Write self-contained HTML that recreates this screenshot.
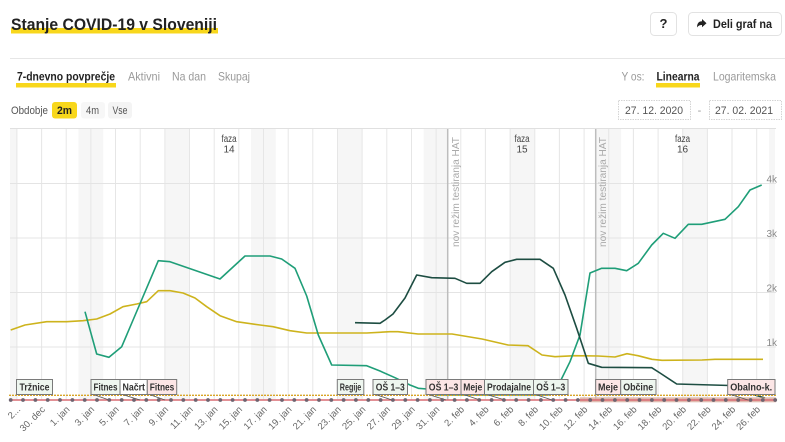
<!DOCTYPE html>
<html>
<head>
<meta charset="utf-8">
<style>
html,body{margin:0;padding:0;background:#fff;}
body{width:785px;height:442px;overflow:hidden;}
svg{display:block;font-family:"Liberation Sans",Arial,sans-serif;}
</style>
</head>
<body>
<svg width="785" height="442" viewBox="0 0 785 442" xmlns="http://www.w3.org/2000/svg">
  <!-- Header -->
  <rect x="11" y="28" width="207" height="5.5" fill="#f8d71c"/>
  <text x="11" y="30" font-size="17" font-weight="bold" fill="#222" textLength="206" lengthAdjust="spacingAndGlyphs">Stanje COVID-19 v Sloveniji</text>

  <rect x="650.5" y="12.5" width="26" height="23" rx="4" fill="#fff" stroke="#e2e2e2"/>
  <text x="663.5" y="28" font-size="13" font-weight="bold" fill="#222" text-anchor="middle">?</text>
  <rect x="688.5" y="12.5" width="93" height="23" rx="4" fill="#fff" stroke="#e2e2e2"/>
  <path d="M697,27.5 C697,22.5 699.5,21.2 702,21.2 L702,19 L706.5,23.2 L702,27.3 L702,25 C700,25 698.3,25.6 697,27.5 Z" fill="#222"/>
  <text x="713" y="28" font-size="12" font-weight="bold" fill="#222" textLength="59" lengthAdjust="spacingAndGlyphs">Deli graf na</text>

  <line x1="10" y1="58.5" x2="785" y2="58.5" stroke="#e6e6e6" stroke-width="1"/>

  <!-- Tabs -->
  <rect x="16" y="83" width="100" height="4.5" fill="#f8d71c"/>
  <text x="17" y="80.5" font-size="12" font-weight="bold" fill="#222" textLength="98" lengthAdjust="spacingAndGlyphs">7-dnevno povprečje</text>
  <text x="128" y="80.5" font-size="12" fill="#9a9a9a" textLength="32" lengthAdjust="spacingAndGlyphs">Aktivni</text>
  <text x="172" y="80.5" font-size="12" fill="#9a9a9a" textLength="34" lengthAdjust="spacingAndGlyphs">Na dan</text>
  <text x="218" y="80.5" font-size="12" fill="#9a9a9a" textLength="32" lengthAdjust="spacingAndGlyphs">Skupaj</text>

  <text x="621.5" y="80.5" font-size="12" fill="#9a9a9a" textLength="23" lengthAdjust="spacingAndGlyphs">Y os:</text>
  <rect x="656" y="83" width="44" height="4.5" fill="#f8d71c"/>
  <text x="656.5" y="80.5" font-size="12" font-weight="bold" fill="#222" textLength="43" lengthAdjust="spacingAndGlyphs">Linearna</text>
  <text x="713" y="80.5" font-size="12" fill="#9a9a9a" textLength="63" lengthAdjust="spacingAndGlyphs">Logaritemska</text>

  <!-- Period -->
  <text x="11" y="114" font-size="11" fill="#555" textLength="37" lengthAdjust="spacingAndGlyphs">Obdobje</text>
  <rect x="52" y="102" width="25" height="16.5" rx="3" fill="#f8d71c"/>
  <text x="57" y="114" font-size="11" font-weight="bold" fill="#222" textLength="15" lengthAdjust="spacingAndGlyphs">2m</text>
  <rect x="81" y="102" width="24" height="16.5" rx="3" fill="#f7f7f7"/>
  <text x="86" y="114" font-size="11" fill="#555" textLength="13" lengthAdjust="spacingAndGlyphs">4m</text>
  <rect x="108" y="102" width="24" height="16.5" rx="3" fill="#f4f4f4"/>
  <text x="112.5" y="114" font-size="11" fill="#555" textLength="15" lengthAdjust="spacingAndGlyphs">Vse</text>

  <rect x="618.5" y="100.5" width="72" height="19" fill="#fff" stroke="#d4d4d4" stroke-dasharray="1.5,1"/>
  <text x="625" y="114" font-size="11" fill="#555" textLength="58" lengthAdjust="spacingAndGlyphs">27. 12. 2020</text>
  <text x="699.5" y="114" font-size="11" fill="#999" text-anchor="middle">-</text>
  <rect x="709.5" y="100.5" width="72" height="19" fill="#fff" stroke="#d4d4d4" stroke-dasharray="1.5,1"/>
  <text x="715" y="114" font-size="11" fill="#555" textLength="58" lengthAdjust="spacingAndGlyphs">27. 02. 2021</text>

  <!-- Chart: weekend bands -->
  <g fill="#f6f6f6">
    <rect x="10" y="129" width="6.9" height="271"/>
    <rect x="78.5" y="129" width="24.7" height="271"/>
    <rect x="164.8" y="129" width="24.7" height="271"/>
    <rect x="251.1" y="129" width="24.7" height="271"/>
    <rect x="337.4" y="129" width="24.7" height="271"/>
    <rect x="423.7" y="129" width="24.7" height="271"/>
    <rect x="510.1" y="129" width="24.7" height="271"/>
    <rect x="596.4" y="129" width="24.7" height="271"/>
    <rect x="682.7" y="129" width="24.7" height="271"/>
    <rect x="769.0" y="129" width="6" height="271"/>
  </g>

  <!-- top border -->
  <line x1="10" y1="128.5" x2="776" y2="128.5" stroke="#e0e0e0"/>

  <!-- vertical gridlines -->
  <g stroke="#e6e6e6" stroke-width="1">
    <line x1="16.9" y1="129" x2="16.9" y2="400"/>
    <line x1="41.6" y1="129" x2="41.6" y2="400"/>
    <line x1="66.2" y1="129" x2="66.2" y2="400"/>
    <line x1="90.9" y1="129" x2="90.9" y2="400"/>
    <line x1="115.5" y1="129" x2="115.5" y2="400"/>
    <line x1="140.2" y1="129" x2="140.2" y2="400"/>
    <line x1="164.9" y1="129" x2="164.9" y2="400"/>
    <line x1="189.5" y1="129" x2="189.5" y2="400"/>
    <line x1="214.2" y1="129" x2="214.2" y2="400"/>
    <line x1="238.8" y1="129" x2="238.8" y2="400"/>
    <line x1="263.5" y1="129" x2="263.5" y2="400"/>
    <line x1="288.2" y1="129" x2="288.2" y2="400"/>
    <line x1="312.8" y1="129" x2="312.8" y2="400"/>
    <line x1="337.5" y1="129" x2="337.5" y2="400"/>
    <line x1="362.1" y1="129" x2="362.1" y2="400"/>
    <line x1="386.8" y1="129" x2="386.8" y2="400"/>
    <line x1="411.5" y1="129" x2="411.5" y2="400"/>
    <line x1="436.1" y1="129" x2="436.1" y2="400"/>
    <line x1="460.8" y1="129" x2="460.8" y2="400"/>
    <line x1="485.4" y1="129" x2="485.4" y2="400"/>
    <line x1="510.1" y1="129" x2="510.1" y2="400"/>
    <line x1="534.8" y1="129" x2="534.8" y2="400"/>
    <line x1="559.4" y1="129" x2="559.4" y2="400"/>
    <line x1="584.1" y1="129" x2="584.1" y2="400"/>
    <line x1="608.7" y1="129" x2="608.7" y2="400"/>
    <line x1="633.4" y1="129" x2="633.4" y2="400"/>
    <line x1="658.1" y1="129" x2="658.1" y2="400"/>
    <line x1="682.7" y1="129" x2="682.7" y2="400"/>
    <line x1="707.4" y1="129" x2="707.4" y2="400"/>
    <line x1="732.0" y1="129" x2="732.0" y2="400"/>
    <line x1="756.7" y1="129" x2="756.7" y2="400"/>
  </g>

  <!-- horizontal gridlines -->
  <g stroke="#e4e4e4" stroke-width="1">
    <line x1="10" y1="183.5" x2="776" y2="183.5"/>
    <line x1="10" y1="238" x2="776" y2="238"/>
    <line x1="10" y1="292.5" x2="776" y2="292.5"/>
    <line x1="10" y1="347" x2="776" y2="347"/>
  </g>

  <!-- y labels -->
  <g font-size="10" fill="#8a8a8a" text-anchor="end">
    <text x="777" y="182.5">4k</text>
    <text x="777" y="237">3k</text>
    <text x="777" y="291.5">2k</text>
    <text x="777" y="346">1k</text>
  </g>

  <!-- HAT lines -->
  <line x1="447.7" y1="129" x2="447.7" y2="400" stroke="#bdbdbd" stroke-width="1.5"/>
  <line x1="595.7" y1="129" x2="595.7" y2="400" stroke="#bdbdbd" stroke-width="1.5"/>
  <text transform="translate(459,247) rotate(-90)" font-size="10" fill="#aaa" textLength="110" lengthAdjust="spacingAndGlyphs">nov režim testiranja HAT</text>
  <text transform="translate(606,247) rotate(-90)" font-size="10" fill="#aaa" textLength="110" lengthAdjust="spacingAndGlyphs">nov režim testiranja HAT</text>

  <!-- phase labels -->
  <g font-size="10" fill="#444" text-anchor="middle">
    <text x="229" y="142" textLength="15" lengthAdjust="spacingAndGlyphs">faza</text>
    <text x="229" y="152.5">14</text>
    <text x="522" y="142" textLength="15" lengthAdjust="spacingAndGlyphs">faza</text>
    <text x="522" y="152.5">15</text>
    <text x="682.5" y="142" textLength="15" lengthAdjust="spacingAndGlyphs">faza</text>
    <text x="682.5" y="152.5">16</text>
  </g>

  <!-- Series: yellow -->
  <polyline fill="none" stroke="#cdb31c" stroke-width="1.6" stroke-linejoin="round"
    points="10.7,330 25,325 46.7,321.7 66.7,321.7 83,320.7 96.7,319 110,314 123,306.7 136.7,304 146.7,301.7 158.3,290.7 170,290.7 183,293 195,298 206.7,306.7 220,315.7 236.7,321.7 260,325 273,326.7 290,330.7 306.7,333 366.7,333 390,331.7 398,331.7 418,334 452,334 482,339 508,345 528,345.7 542,355 555,356.7 575,355.7 598,356 615,357 627,353.7 638,355.7 652,359.3 662,360.3 702,360 715,359.3 763,359.3"/>

  <!-- Series: teal -->
  <polyline fill="none" stroke="#1f9e78" stroke-width="1.6" stroke-linejoin="round"
    points="85,311.7 96.7,354 109,357.3 121.7,346.7 158.3,260.7 170,261.7 220,279 245,256 270,256 281.7,259 295,268.3 306.7,296 318.3,335 331.7,365 366.7,365.7 380,371 395,377.7 410,385 418.3,388.3 427,389 437,395 548,395 558,386 570,361.7 580,335 590,273 601.7,268.3 615,268.3 626.7,270.7 638.3,263.3 651.7,245 663.3,233.3 675,238.3 688.3,224.3 701.7,224.3 725,219.3 738.3,206.7 750,190 761.7,185"/>

  <!-- Series: dark green -->
  <polyline fill="none" stroke="#1d4d42" stroke-width="1.6" stroke-linejoin="round"
    points="355,322.7 380,323.3 385,320 393,314 405,298 416.7,275 431.7,277.7 455,278.3 466.7,283.3 480,283.3 491.7,271.7 505,262.3 516.7,259.3 540,259.3 553.3,268.3 565,295 576.7,328.3 588.3,363.3 601.7,367.3 651.7,367.7 660,373 676.7,384 730,385.5 745,392 765,398"/>

  <!-- baseline series -->
  <rect x="580" y="397.3" width="196" height="5" fill="#d8ab9c" opacity="0.8"/>
  <line x1="9" y1="395.3" x2="776" y2="395.3" stroke="#d9a526" stroke-width="1.3" stroke-dasharray="2,1"/>
  <line x1="9" y1="400" x2="776" y2="400" stroke="#d96b72" stroke-width="1.6"/>

  <!-- connector lines -->
  <g stroke="#555" stroke-width="0.8">
    <line x1="92" y1="394" x2="109" y2="400"/>
    <line x1="121" y1="394" x2="140" y2="400"/>
    <line x1="148" y1="394" x2="165" y2="400"/>
    <line x1="374" y1="394" x2="392" y2="400"/>
    <line x1="427" y1="394" x2="446" y2="400"/>
    <line x1="462" y1="394" x2="480" y2="400"/>
    <line x1="485" y1="394" x2="505" y2="400"/>
    <line x1="534" y1="394" x2="552" y2="400"/>
    <line x1="729" y1="394" x2="748" y2="400"/>
  </g>

  <!-- dots -->
  <g fill="#6e6470">
    <circle cx="10.7" cy="400" r="1.9"/><circle cx="23.0" cy="400" r="1.9"/><circle cx="35.4" cy="400" r="1.9"/><circle cx="47.7" cy="400" r="1.9"/><circle cx="60.0" cy="400" r="1.9"/><circle cx="72.4" cy="400" r="1.9"/><circle cx="84.7" cy="400" r="1.9"/><circle cx="97.0" cy="400" r="1.9"/><circle cx="109.3" cy="400" r="1.9"/><circle cx="121.7" cy="400" r="1.9"/>
    <circle cx="134.0" cy="400" r="1.9"/><circle cx="146.3" cy="400" r="1.9"/><circle cx="158.7" cy="400" r="1.9"/><circle cx="171.0" cy="400" r="1.9"/><circle cx="183.3" cy="400" r="1.9"/><circle cx="195.7" cy="400" r="1.9"/><circle cx="208.0" cy="400" r="1.9"/><circle cx="220.3" cy="400" r="1.9"/><circle cx="232.6" cy="400" r="1.9"/><circle cx="245.0" cy="400" r="1.9"/>
    <circle cx="257.3" cy="400" r="1.9"/><circle cx="269.6" cy="400" r="1.9"/><circle cx="282.0" cy="400" r="1.9"/><circle cx="294.3" cy="400" r="1.9"/><circle cx="306.6" cy="400" r="1.9"/><circle cx="319.0" cy="400" r="1.9"/><circle cx="331.3" cy="400" r="1.9"/><circle cx="343.6" cy="400" r="1.9"/><circle cx="355.9" cy="400" r="1.9"/><circle cx="368.3" cy="400" r="1.9"/>
    <circle cx="380.6" cy="400" r="1.9"/><circle cx="392.9" cy="400" r="1.9"/><circle cx="405.3" cy="400" r="1.9"/><circle cx="417.6" cy="400" r="1.9"/><circle cx="429.9" cy="400" r="1.9"/><circle cx="442.3" cy="400" r="1.9"/><circle cx="454.6" cy="400" r="1.9"/><circle cx="466.9" cy="400" r="1.9"/><circle cx="479.2" cy="400" r="1.9"/><circle cx="491.6" cy="400" r="1.9"/>
    <circle cx="503.9" cy="400" r="1.9"/><circle cx="516.2" cy="400" r="1.9"/><circle cx="528.6" cy="400" r="1.9"/><circle cx="540.9" cy="400" r="1.9"/><circle cx="553.2" cy="400" r="1.9"/><circle cx="565.6" cy="400" r="1.9"/><circle cx="577.9" cy="400" r="1.9"/><circle cx="590.2" cy="400" r="1.9"/><circle cx="602.5" cy="400" r="1.9"/><circle cx="614.9" cy="400" r="1.9"/>
    <circle cx="627.2" cy="400" r="1.9"/><circle cx="639.5" cy="400" r="1.9"/><circle cx="651.9" cy="400" r="1.9"/><circle cx="664.2" cy="400" r="1.9"/><circle cx="676.5" cy="400" r="1.9"/><circle cx="688.9" cy="400" r="1.9"/><circle cx="701.2" cy="400" r="1.9"/><circle cx="713.5" cy="400" r="1.9"/><circle cx="725.8" cy="400" r="1.9"/><circle cx="738.2" cy="400" r="1.9"/>
    <circle cx="750.5" cy="400" r="1.9"/><circle cx="762.8" cy="400" r="1.9"/><circle cx="775.2" cy="400" r="1.9"/>
  </g>

  <!-- event labels -->
  <g stroke="#7a7a7a" stroke-width="1">
    <rect x="16.5" y="379.5" width="36" height="15" fill="#eef6ef"/>
    <rect x="91" y="379.5" width="29" height="15" fill="#eef6ef"/>
    <rect x="120" y="379.5" width="27.3" height="15" fill="#ffffff"/>
    <rect x="147.3" y="379.5" width="29.4" height="15" fill="#fce6e6"/>
    <rect x="337.3" y="379.5" width="26.5" height="15" fill="#eef6ef"/>
    <rect x="373" y="379.5" width="34.5" height="15" fill="#eef6ef"/>
    <rect x="426" y="379.5" width="35" height="15" fill="#fce6e6"/>
    <rect x="461" y="379.5" width="23.5" height="15" fill="#fce6e6"/>
    <rect x="484.5" y="379.5" width="49" height="15" fill="#eef6ef"/>
    <rect x="533.5" y="379.5" width="34.5" height="15" fill="#eef6ef"/>
    <rect x="595.7" y="379.5" width="25" height="15" fill="#fce6e6"/>
    <rect x="620.7" y="379.5" width="35.3" height="15" fill="#eef6ef"/>
    <rect x="727.7" y="379.5" width="47.3" height="15" fill="#fce6e6"/>
  </g>
  <g font-size="10.5" font-weight="bold" fill="#333">
    <text x="19.5" y="390.5" textLength="30" lengthAdjust="spacingAndGlyphs">Tržnice</text>
    <text x="93.5" y="390.5" textLength="24" lengthAdjust="spacingAndGlyphs">Fitnes</text>
    <text x="122.5" y="390.5" textLength="22.5" lengthAdjust="spacingAndGlyphs">Načrt</text>
    <text x="149.8" y="390.5" textLength="24.5" lengthAdjust="spacingAndGlyphs">Fitnes</text>
    <text x="339.8" y="390.5" textLength="21.5" lengthAdjust="spacingAndGlyphs">Regije</text>
    <text x="375.8" y="390.5" textLength="29" lengthAdjust="spacingAndGlyphs">OŠ 1–3</text>
    <text x="428.8" y="390.5" textLength="29.5" lengthAdjust="spacingAndGlyphs">OŠ 1–3</text>
    <text x="463.3" y="390.5" textLength="19" lengthAdjust="spacingAndGlyphs">Meje</text>
    <text x="487" y="390.5" textLength="44" lengthAdjust="spacingAndGlyphs">Prodajalne</text>
    <text x="536.3" y="390.5" textLength="29" lengthAdjust="spacingAndGlyphs">OŠ 1–3</text>
    <text x="598" y="390.5" textLength="20" lengthAdjust="spacingAndGlyphs">Meje</text>
    <text x="623.2" y="390.5" textLength="30" lengthAdjust="spacingAndGlyphs">Občine</text>
    <text x="730.2" y="390.5" textLength="42" lengthAdjust="spacingAndGlyphs">Obalno-k.</text>
  </g>

  <!-- x tick labels -->
  <g font-size="9.5" fill="#666" text-anchor="end">
    <text transform="translate(21,410) rotate(-45)">2...</text>
    <text transform="translate(45.6,410) rotate(-45)">30. dec</text>
    <text transform="translate(70.2,410) rotate(-45)">1. jan</text>
    <text transform="translate(94.9,410) rotate(-45)">3. jan</text>
    <text transform="translate(119.5,410) rotate(-45)">5. jan</text>
    <text transform="translate(144.2,410) rotate(-45)">7. jan</text>
    <text transform="translate(168.9,410) rotate(-45)">9. jan</text>
    <text transform="translate(193.5,410) rotate(-45)">11. jan</text>
    <text transform="translate(218.2,410) rotate(-45)">13. jan</text>
    <text transform="translate(242.8,410) rotate(-45)">15. jan</text>
    <text transform="translate(267.5,410) rotate(-45)">17. jan</text>
    <text transform="translate(292.2,410) rotate(-45)">19. jan</text>
    <text transform="translate(316.8,410) rotate(-45)">21. jan</text>
    <text transform="translate(341.5,410) rotate(-45)">23. jan</text>
    <text transform="translate(366.1,410) rotate(-45)">25. jan</text>
    <text transform="translate(390.8,410) rotate(-45)">27. jan</text>
    <text transform="translate(415.5,410) rotate(-45)">29. jan</text>
    <text transform="translate(440.1,410) rotate(-45)">31. jan</text>
    <text transform="translate(464.8,410) rotate(-45)">2. feb</text>
    <text transform="translate(489.4,410) rotate(-45)">4. feb</text>
    <text transform="translate(514.1,410) rotate(-45)">6. feb</text>
    <text transform="translate(538.8,410) rotate(-45)">8. feb</text>
    <text transform="translate(563.4,410) rotate(-45)">10. feb</text>
    <text transform="translate(588.1,410) rotate(-45)">12. feb</text>
    <text transform="translate(612.7,410) rotate(-45)">14. feb</text>
    <text transform="translate(637.4,410) rotate(-45)">16. feb</text>
    <text transform="translate(662.1,410) rotate(-45)">18. feb</text>
    <text transform="translate(686.7,410) rotate(-45)">20. feb</text>
    <text transform="translate(711.4,410) rotate(-45)">22. feb</text>
    <text transform="translate(736.0,410) rotate(-45)">24. feb</text>
    <text transform="translate(760.7,410) rotate(-45)">26. feb</text>
  </g>
</svg>
</body>
</html>
